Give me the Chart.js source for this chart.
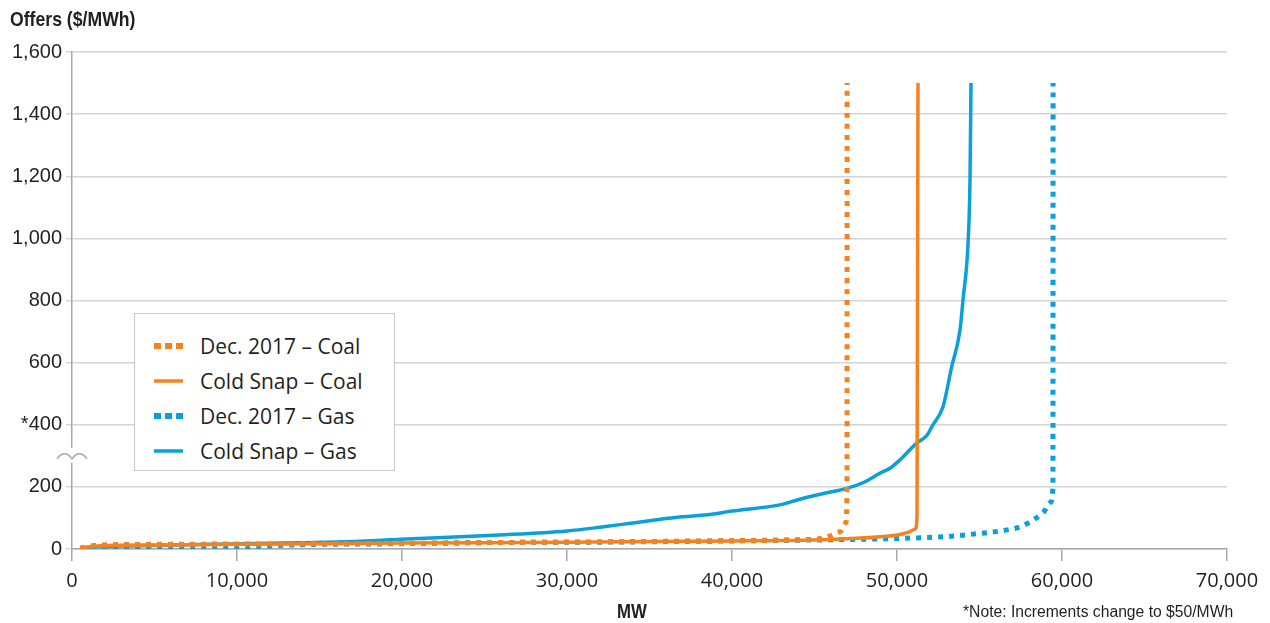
<!DOCTYPE html>
<html>
<head>
<meta charset="utf-8">
<script src="https://cdn.jsdelivr.net/npm/chart.js@4.4.1/dist/chart.umd.min.js"></script>
<style>
  html, body { margin: 0; padding: 0; background: #fff; }
  #wrap { position: relative; width: 1270px; height: 623px; }
  #c { position: absolute; left: 0; top: 0; }
  #title { position: absolute; left: 10px; top: 7px; font-family: 'Liberation Sans', sans-serif; font-weight: bold; font-size: 21px; color: #231f20; white-space: nowrap; transform: scaleX(0.84); transform-origin: 0 0; }
  #mw { position: absolute; left: 617px; top: 600px; font-family: 'Liberation Sans', sans-serif; font-weight: bold; font-size: 20px; color: #231f20; white-space: nowrap; transform: scaleX(0.84); transform-origin: 0 0; }
  #note { position: absolute; left: 963px; top: 603px; font-family: 'Liberation Sans', sans-serif; font-size: 16px; color: #231f20; white-space: nowrap; transform: scaleX(0.98); transform-origin: 0 0; }
  #legend { position: absolute; left: 134px; top: 313px; width: 261px; height: 158px; border: 1px solid #c8c8c8; background: #fff; box-sizing: border-box; }
  .item { position: absolute; left: 0; height: 30px; display: flex; align-items: center; font-family: 'Open Sans', sans-serif; font-size: 21px; color: #231f20; white-space: nowrap; }
  .item svg { margin-left: 19px; margin-right: 16px; }
</style>
</head>
<body>
<div id="wrap">
  <canvas id="c" width="1270" height="623"></canvas>
  <div id="title">Offers ($/MWh)</div>
  <div id="mw">MW</div>
  <div id="legend"></div>
  <div id="note">*Note: Increments change to $50/MWh</div>
</div>
<script>
// ---- Data (MW, $/MWh) ----
const seriesLabels = ['Dec. 2017 \u2013 Coal', 'Cold Snap \u2013 Coal', 'Dec. 2017 \u2013 Gas', 'Cold Snap \u2013 Gas'];

const decCoalMW    = [500, 1500, 5000, 10000, 20000, 26000, 32000, 40000, 44000, 45150, 45940, 46545, 46900, 46970, 46975];
const decCoalPrice = [3, 12, 15, 16, 18, 21, 23, 27, 30, 32, 42, 55, 84, 200, 1500];

const snapCoalMW    = [500, 1500, 5000, 10000, 20000, 30000, 40000, 43000, 47000, 50000, 50600, 51100, 51212, 51230, 51273];
const snapCoalPrice = [3, 10, 13, 15, 19, 22, 26, 27, 33, 45, 52, 64, 100, 500, 1500];

const decGasMW    = [500, 1000, 5000, 10000, 14000, 20000, 26000, 32000, 40000, 45000, 50000, 53000, 55000, 56500, 57500, 58300, 58900, 59300, 59450, 59455, 59460];
const decGasPrice = [0, 2, 3, 6, 14, 17, 21, 22, 26, 29, 34, 40, 50, 60, 72, 95, 120, 150, 200, 600, 1500];

const snapGasMW    = [500, 800, 1500, 3300, 9400, 13800, 17450, 19900, 25900, 30000, 32000, 34000, 36000, 37000, 38500, 40000, 42900, 44100, 45500, 47000, 48000, 49000, 49576, 50182, 51193, 51800, 52182, 52788, 53315, 53818, 54000, 54321, 54424, 54485];
const snapGasPrice = [0, 4, 7, 10, 16, 20, 25, 31, 45, 58, 70, 84, 98, 104, 110, 122, 142, 160, 178, 196, 215, 245, 260, 287, 341, 365, 400, 458, 587, 705, 802, 1001, 1188, 1500];

const yTicks = [0, 200, 400, 600, 800, 1000, 1200, 1400, 1600];
const yTickLabels = ['0', '200', '*400', '600', '800', '1,000', '1,200', '1,400', '1,600'];
const xTicks = [0, 10000, 20000, 30000, 40000, 50000, 60000, 70000];
const xTickLabels = ['0', '10,000', '20,000', '30,000', '40,000', '50,000', '60,000', '70,000'];
const BREAK_AT = 300;

const ORANGE = '#F5821F';
const BLUE = '#0AA0DC';

function pts(xs, ys) { return xs.map((x, i) => ({ x: x, y: ys[i] })); }

const styles = [
  { color: ORANGE, dash: [5, 6], width: 5 },
  { color: ORANGE, dash: [], width: 3.5 },
  { color: BLUE, dash: [5, 6], width: 5 },
  { color: BLUE, dash: [], width: 3.5 }
];
const dataSets = [pts(decCoalMW, decCoalPrice), pts(snapCoalMW, snapCoalPrice), pts(decGasMW, decGasPrice), pts(snapGasMW, snapGasPrice)];

const datasets = dataSets.map((d, i) => ({
  label: seriesLabels[i],
  data: d,
  borderColor: styles[i].color,
  backgroundColor: styles[i].color,
  borderWidth: styles[i].width,
  borderDash: styles[i].dash,
  borderCapStyle: 'butt',
  borderJoinStyle: 'round',
  pointRadius: 0,
  cubicInterpolationMode: 'monotone',
  fill: false
}));

const breakMark = {
  id: 'breakMark',
  afterDraw(chart) {
    const ctx = chart.ctx;
    const py = chart.scales.y.getPixelForValue(BREAK_AT);
    const px = chart.chartArea.left;
    ctx.save();
    ctx.fillStyle = '#fff';
    ctx.fillRect(px - 3, py - 8, 6, 15);
    ctx.strokeStyle = '#a8a8a8';
    ctx.lineWidth = 1.5;
    ctx.beginPath();
    ctx.moveTo(px - 15, py + 3);
    ctx.quadraticCurveTo(px - 7.5, py - 7, px, py + 3);
    ctx.quadraticCurveTo(px + 7.5, py - 7, px + 15, py + 3);
    ctx.stroke();
    ctx.restore();
  }
};

const chart = new Chart(document.getElementById('c'), {
  type: 'line',
  data: { datasets: datasets },
  options: {
    responsive: false,
    animation: false,
    events: [],
    layout: { padding: { top: 52, right: 43, left: 0, bottom: 0 } },
    plugins: { legend: { display: false }, title: { display: false }, tooltip: { enabled: false } },
    scales: {
      x: {
        type: 'linear',
        min: 0, max: 70000,
        afterFit(s) { s.height = 74; },
        afterBuildTicks(s) { s.ticks = xTicks.map(v => ({ value: v })); },
        ticks: {
          autoSkip: false, maxRotation: 0, padding: 8,
          color: '#231f20',
          font: { family: "'Open Sans', sans-serif", size: 20 },
          callback: (v) => xTickLabels[xTicks.indexOf(v)]
        },
        grid: { drawOnChartArea: false, drawTicks: true, tickLength: 12, color: '#a8a8a8', lineWidth: 1.5 },
        border: { display: true, color: '#a8a8a8', width: 1.5 },
        title: { display: false }
      },
      y: {
        type: 'linear',
        min: 0, max: 1600,
        afterFit(s) { s.width = 72; },
        afterBuildTicks(s) { s.ticks = yTicks.map(v => ({ value: v })); },
        ticks: {
          autoSkip: false, padding: 4,
          color: '#231f20',
          font: { family: "'Liberation Sans', sans-serif", size: 20 },
          callback: (v) => yTickLabels[yTicks.indexOf(v)]
        },
        grid: { drawOnChartArea: true, drawTicks: true, tickLength: 6, color: '#d4d4d4', lineWidth: 1.5 },
        border: { display: true, color: '#a8a8a8', width: 1.5 }
      }
    }
  },
  plugins: [breakMark]
});

// HTML legend built from the datasets
const legend = document.getElementById('legend');
const rowTops = [17, 52, 87, 122];
datasets.forEach((ds, i) => {
  const row = document.createElement('div');
  row.className = 'item';
  row.style.top = rowTops[i] + 'px';
  const dash = ds.borderDash.length ? 'stroke-dasharray="7,4"' : '';
  const w = ds.borderDash.length ? 6 : 3.5;
  row.innerHTML = '<svg width="30" height="10"><line x1="0" y1="5" x2="29" y2="5" stroke="' + ds.borderColor + '" stroke-width="' + w + '" ' + dash + '/></svg><span>' + ds.label + '</span>';
  legend.appendChild(row);
});
</script>
</body>
</html>
